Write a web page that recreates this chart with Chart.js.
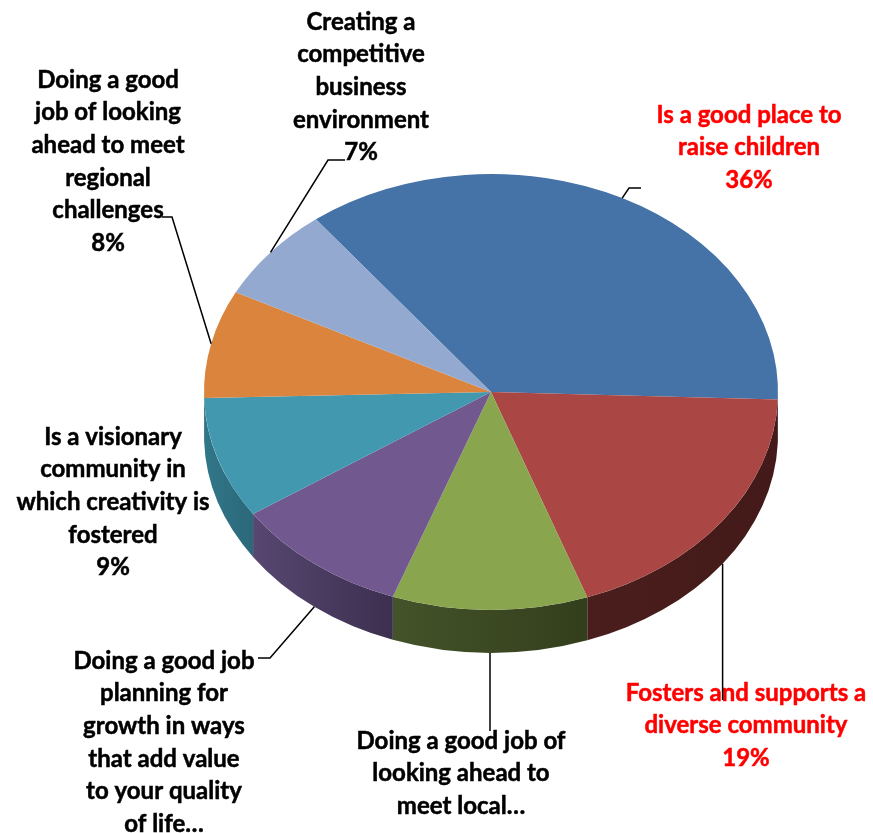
<!DOCTYPE html>
<html>
<head>
<meta charset="utf-8">
<title>Community rating</title>
<script src="https://cdn.jsdelivr.net/npm/chart.js@4.4.0/dist/chart.umd.min.js"></script>
<style>
    html, body { margin: 0; padding: 0; background: #fff; }
    #wrap { width: 873px; height: 833px; position: relative; }
</style>
</head>
<body>
<div id="wrap"><canvas id="chartPie"></canvas></div>
<script>
// label text, already wrapped the way it is printed
const categories = [
    ["Is a good place to", "raise children"],
    ["Fosters and supports a", "diverse community"],
    ["Doing a good job of", "looking ahead to", "meet local…"],
    ["Doing a good job", "planning for", "growth in ways", "that add value", "to your quality", "of life…"],
    ["Is a visionary", "community in", "which creativity is", "fostered"],
    ["Doing a good", "job of looking", "ahead to meet", "regional", "challenges"],
    ["Creating a", "competitive", "business", "environment"]
];
const values = [36, 19, 11, 10, 9, 8, 7];
// long labels get cut off before the percentage
const showPercent = [true, true, false, false, true, true, true];

const topColors = ["#4572a7", "#aa4643", "#89a54e", "#71588f", "#4198af", "#db843d", "#93a9cf"];
const sideColors = [
    ["#2c4a6e", "#233b58"],
    ["#4a1e1d", "#431a19"],
    ["#44532a", "#333f1c"],
    ["#574771", "#3c2f4f"],
    ["#317789", "#2b687a"],
    ["#91572a", "#7a4a22"],
    ["#61708a", "#536078"]
];
const labelColors = ["#ff0000", "#ff0000", "#000", "#000", "#000", "#000", "#000"];

// pie geometry on screen (ellipse tilted away from the viewer)
const CX = 491, CY = 392, RX = 287, RY = 218, DEPTH = 43;
const K = RY / RX;

// label block centre / first line, and leader bend points (x null = straight down)
const labelLayout = [
    { x: 749, y: 115, leader: [[629, 188], [641, 188]] },
    { x: 746, y: 693, leader: [[null, 700]] },
    { x: 461, y: 741, leader: [[null, 731]] },
    { x: 164, y: 661, leader: [[270, 658], [258, 658]] },
    { x: 113, y: 437, leader: null },
    { x: 108, y: 80, leader: [[172, 217], [162, 217]] },
    { x: 361, y: 22, leader: [[328, 160], [345, 160]] }
];
const LINE_H = 32.6;
const FONT = "bold 24px Lato";

document.addEventListener("DOMContentLoaded", () => {
    initPie();
});

/** squash the pie into an ellipse and extrude the front rim */
const pie3d = {
    id: "pie3d",
    beforeDatasetsDraw(chart) {
        const ctx = chart.ctx;
        const arcs = chart.getDatasetMeta(0).data;
        const y0 = arcs[0].y;
        ctx.save();
        ctx.translate(0, CY);
        ctx.scale(1, K);
        ctx.translate(0, -y0);

        const d = DEPTH / K;
        arcs.forEach((arc, i) => {
            const { x, y, startAngle, endAngle, outerRadius: r } = arc;
            for (let n = -1; n <= 1; n++) {
                const a = Math.max(startAngle, n * 2 * Math.PI);
                const b = Math.min(endAngle, n * 2 * Math.PI + Math.PI);
                if (b <= a) continue;
                const xa = x + r * Math.cos(a);
                const xb = x + r * Math.cos(b);
                const g = ctx.createLinearGradient(Math.min(xa, xb), 0, Math.max(xa, xb) + 0.01, 0);
                g.addColorStop(0, sideColors[i][0]);
                g.addColorStop(1, sideColors[i][1]);
                ctx.beginPath();
                ctx.arc(x, y, r, a, b);
                ctx.arc(x, y + d, r, b, a, true);
                ctx.closePath();
                ctx.fillStyle = g;
                ctx.fill();
            }
        });
    },
    afterDatasetsDraw(chart) {
        chart.ctx.restore();
    }
};

/** multi-line data labels with leader lines */
const pieLabels = {
    id: "pieLabels",
    afterDraw(chart) {
        const ctx = chart.ctx;
        const arcs = chart.getDatasetMeta(0).data;
        ctx.save();
        ctx.font = FONT;
        ctx.textAlign = "center";
        ctx.textBaseline = "middle";

        arcs.forEach((arc, i) => {
            const lay = labelLayout[i];
            const lines = categories[i].slice();
            if (showPercent[i]) lines.push(values[i] + "%");
            ctx.fillStyle = labelColors[i];
            ctx.strokeStyle = labelColors[i];
            ctx.lineWidth = 0.5;
            lines.forEach((t, j) => {
                ctx.fillText(t, lay.x, lay.y + j * LINE_H);
                ctx.strokeText(t, lay.x, lay.y + j * LINE_H);
            });

            if (!lay.leader) return;
            const mid = (arc.startAngle + arc.endAngle) / 2;
            const sin = Math.sin(mid);
            const ax = arc.x + arc.outerRadius * Math.cos(mid);
            const ay = CY + arc.outerRadius * sin * K + (sin > 0 ? DEPTH : 0);
            ctx.beginPath();
            ctx.moveTo(ax, ay);
            lay.leader.forEach(([px, py]) => ctx.lineTo(px === null ? ax : px, py));
            ctx.strokeStyle = "#000";
            ctx.lineWidth = 1.5;
            ctx.stroke();
        });
        ctx.restore();
    }
};

function initPie() {
    const ctx = document.getElementById("chartPie");
    new Chart(ctx, {
        type: "pie",
        data: {
            labels: categories.map(l => l.join(" ")),
            datasets: [{
                data: values,
                backgroundColor: topColors,
                borderWidth: 0,
                hoverOffset: 0
            }]
        },
        options: {
            responsive: true,
            maintainAspectRatio: false,
            animation: false,
            radius: RX,
            rotation: -37.6,
            layout: {
                padding: { left: CX - RX, right: 873 - CX - RX, top: 130, bottom: 129 }
            },
            events: [],
            plugins: {
                legend: { display: false },
                tooltip: { enabled: false }
            }
        },
        plugins: [pie3d, pieLabels]
    });
}
</script>
</body>
</html>
